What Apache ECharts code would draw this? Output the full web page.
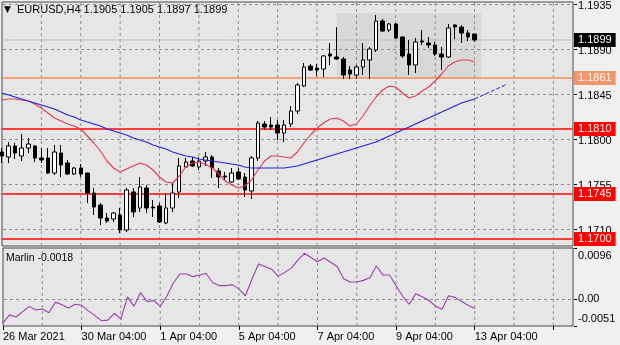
<!DOCTYPE html>
<html><head><meta charset="utf-8">
<script src="https://cdn.jsdelivr.net/npm/echarts@6/dist/echarts.min.js"></script>
<style>html,body{margin:0;padding:0;background:#F0F0F0;}#c{width:620px;height:345px;}</style>
</head><body><div id="c"></div>
<script>
const symbolName = 'EURUSD,H4';
const opens = [1.1787,1.1782,1.1793,1.1783,1.1791,1.1793,1.1781,1.1781,1.1766,1.1786,
1.1776,1.1765,1.1771,1.1766,1.1746,1.1734,1.1721,1.1720,1.1724,1.1709,
1.1747,1.1731,1.1751,1.1732,1.1733,1.1716,1.1731,1.1747,1.1772,1.1778,
1.1772,1.1778,1.1782,1.1768,1.1763,1.1757,1.1767,1.1762,1.1748,1.1781,
1.1815,1.1814,1.1814,1.1806,1.1815,1.1828,1.1853,1.1873,1.1871,1.1870,
1.1885,1.1882,1.1880,1.1869,1.1864,1.1872,1.1879,1.1889,1.1918,1.1909,
1.1915,1.1902,1.1885,1.1874,1.1898,1.1896,1.1894,1.1885,1.1882,1.1914,
1.1912,1.1906,1.1905];
const closes = [1.1783,1.1793,1.1786,1.1791,1.1795,1.1781,1.1779,1.1766,1.1787,1.1774,
1.1765,1.1771,1.1765,1.1746,1.1732,1.1721,1.1718,1.1726,1.1709,1.1749,
1.1727,1.1752,1.1731,1.1731,1.1717,1.1731,1.1746,1.1773,1.1777,1.1773,
1.1778,1.1782,1.1771,1.1762,1.1762,1.1766,1.1760,1.1749,1.1781,1.1816,
1.1812,1.1812,1.1806,1.1814,1.1828,1.1854,1.1872,1.1869,1.1869,1.1883,
1.1883,1.1880,1.1864,1.1865,1.1872,1.1879,1.1890,1.1918,1.1908,1.1915,
1.1901,1.1883,1.1874,1.1897,1.1897,1.1894,1.1885,1.1882,1.1911,1.1912,
1.1906,1.1902,1.1899];
const highs = [1.1791,1.1797,1.1796,1.1805,1.1801,1.1794,1.1791,1.1791,1.1794,1.1794,
1.1779,1.1772,1.1775,1.1766,1.1751,1.1736,1.1726,1.1727,1.1731,1.1751,
1.1751,1.1762,1.1754,1.1739,1.1736,1.1746,1.1756,1.1781,1.1781,1.1782,
1.1782,1.1787,1.1784,1.1771,1.1767,1.1771,1.1771,1.1766,1.1783,1.1818,
1.1818,1.1822,1.1819,1.1819,1.1833,1.1856,1.1876,1.1875,1.1875,1.1884,
1.1896,1.1912,1.1882,1.1873,1.1874,1.1896,1.1892,1.1924,1.1920,1.1916,
1.1916,1.1903,1.1899,1.1901,1.1909,1.1902,1.1897,1.1892,1.1915,1.1915,
1.1914,1.1909,1.1905];
const lows = [1.1776,1.1776,1.1780,1.1778,1.1786,1.1777,1.1776,1.1765,1.1764,1.1762,
1.1764,1.1764,1.1762,1.1736,1.1724,1.1714,1.1716,1.1717,1.1706,1.1707,
1.1722,1.1727,1.1726,1.1722,1.1716,1.1715,1.1727,1.1741,1.1771,1.1772,
1.1769,1.1773,1.1761,1.1751,1.1759,1.1756,1.1759,1.1742,1.1740,1.1778,
1.1809,1.1809,1.1799,1.1797,1.1812,1.1825,1.1852,1.1868,1.1863,1.1862,
1.1874,1.1879,1.1860,1.1860,1.1860,1.1864,1.1860,1.1887,1.1907,1.1907,
1.1900,1.1881,1.1864,1.1866,1.1894,1.1891,1.1883,1.1869,1.1881,1.1900,
1.1896,1.1898,1.1897];
const redMA = [1.1839,1.1840,1.1840,1.1839,1.1838,1.1835,1.1831,1.1826,1.1821,1.1818,
1.1815,1.1813,1.1810,1.1803,1.1796,1.1788,1.1778,1.1771,1.1767,1.1770,
1.1773,1.1776,1.1774,1.1769,1.1762,1.1757,1.1756,1.1763,1.1772,1.1776,
1.1777,1.1775,1.1771,1.1765,1.1758,1.1754,1.1751,1.1753,1.1759,1.1769,
1.1778,1.1783,1.1783,1.1782,1.1781,1.1787,1.1796,1.1804,1.1811,1.1816,
1.1820,1.1821,1.1818,1.1813,1.1815,1.1823,1.1833,1.1842,1.1849,1.1853,
1.1852,1.1846,1.1841,1.1843,1.1848,1.1852,1.1858,1.1865,1.1873,1.1877,
1.1879,1.1879,1.1877];
const blueMA = [1.1846,1.1844,1.1842,1.1840,1.1838,1.1836,1.1834,1.1832,1.1830,1.1827,
1.1824,1.1822,1.1819,1.1817,1.1815,1.1813,1.1810,1.1808,1.1806,1.1804,
1.1801,1.1799,1.1797,1.1794,1.1792,1.1790,1.1787,1.1785,1.1783,1.1782,
1.1780,1.1779,1.1778,1.1777,1.1776,1.1775,1.1774,1.1772,1.1771,1.1771,
1.1771,1.1771,1.1771,1.1771,1.1772,1.1773,1.1775,1.1777,1.1779,1.1781,
1.1783,1.1785,1.1787,1.1789,1.1791,1.1793,1.1795,1.1797,1.1800,1.1803,
1.1806,1.1809,1.1812,1.1815,1.1818,1.1821,1.1824,1.1827,1.1830,1.1833,
1.1836,1.1838,1.1840];
const blueForecastBars = [72, 77];
const blueForecastValues = [1.1840, 1.1855];
const marlin = [-0.0045,-0.0030,-0.0034,-0.0024,-0.0014,-0.0021,-0.0019,-0.0026,-0.0006,-0.0011,
-0.0017,-0.0010,-0.0012,-0.0022,-0.0031,-0.0041,-0.0040,-0.0027,-0.0038,0.0004,
-0.0014,0.0012,-0.0005,-0.0003,-0.0014,0.0005,0.0030,0.0047,0.0047,0.0042,
0.0045,0.0048,0.0031,0.0025,0.0025,0.0027,0.0019,0.0006,0.0037,0.0066,
0.0061,0.0056,0.0043,0.0050,0.0058,0.0073,0.0086,0.0078,0.0070,0.0077,
0.0069,0.0061,0.0038,0.0032,0.0032,0.0035,0.0040,0.0062,0.0045,0.0045,
0.0025,0.0005,-0.0010,0.0010,0.0004,-0.0003,-0.0013,-0.0020,0.0006,0.0003,
-0.0005,-0.0012,-0.0018];
const priceTicks = [1.1935, 1.1890, 1.1845, 1.1800, 1.1755, 1.1710];
const marlinTicks = [0.0096, 0.00, -0.0051];
const orangeLevel = 1.1861;
const redLevels = [1.1810, 1.1745, 1.1700];
const bidPrice = 1.1899;
const rangeBox = {fromBar: 51, toBar: 73, top: 1.1926, bottom: 1.1860};
const timeLabels = ['26 Mar 2021','30 Mar 04:00','1 Apr 04:00','5 Apr 04:00','7 Apr 04:00','9 Apr 04:00','13 Apr 04:00'];
const labelEvery = 12;
const gridEvery = 6;
const totalSlots = 88;

const FF = '"Liberation Sans", Arial, "DejaVu Sans", sans-serif';
const cats = Array.from({length: totalSlots}, (_, i) => 'b' + i);
const n = opens.length;
const candleData = opens.map((o, i) => [o, closes[i], lows[i], highs[i]]);
const forecast = cats.map((_, i) => { const k = blueForecastBars.indexOf(i); return k >= 0 ? blueForecastValues[k] : null; });
const fmt4 = v => v.toFixed(4);
const last = n - 1;
const vGridBars = cats.map((_, i) => i).filter(i => i % gridEvery === 0 && i > 0);
const GRID_COLOR = '#8E8E8E';
const GRID_DASH = [3, 3];

const chart = echarts.init(document.getElementById('c'), null, {renderer: 'canvas'});
const xBase = (gi, showLabels) => ({
  type: 'category', gridIndex: gi, data: cats, boundaryGap: false, position: 'bottom',
  axisLine: {show: false, onZero: false},
  axisTick: {show: showLabels, interval: labelEvery - 1, length: 4, lineStyle: {color: '#000'}},
  axisLabel: {show: showLabels, interval: labelEvery - 1, align: 'left', margin: 5, color: '#000', fontSize: 11, fontFamily: FF,
    formatter: (v, i) => timeLabels[Math.round(i / labelEvery)] || ''},
  splitLine: {show: false}
});

// vertical dotted grid lines: a two-point line series per grid position
function vGridLines(gi, yTop, yBottom) {
  return vGridBars.map(b => ({
    type: 'line', xAxisIndex: gi, yAxisIndex: gi, silent: true, z: 2, symbol: 'none',
    data: [[cats[b], yBottom], [cats[b], yTop]],
    lineStyle: {color: GRID_COLOR, width: 1, type: GRID_DASH}
  }));
}
// horizontal dotted grid lines + small axis tick marks on the right
function hGridSeries(gi, values, drawLine) {
  return {
    type: 'custom', xAxisIndex: gi, yAxisIndex: gi, silent: true, z: 2, clip: false,
    data: values.map(v => [cats[0], v]),
    renderItem: (params, api) => {
      const cs = params.coordSys;
      const y = Math.round(api.coord([api.value(0), api.value(1)])[1]) + 0.5;
      const children = [{type: 'line', shape: {x1: cs.x + cs.width + 1, y1: y, x2: cs.x + cs.width + 4, y2: y},
        style: {stroke: '#000', lineWidth: 1}}];
      if (drawLine(api.value(1))) {
        children.push({type: 'line', shape: {x1: cs.x + 1, y1: y, x2: cs.x + cs.width - 1, y2: y},
          style: {stroke: GRID_COLOR, lineWidth: 1, lineDash: GRID_DASH, fill: null}});
      }
      return {type: 'group', children: children};
    }
  };
}
// end-of-line value label for a horizontal level
function levelSeries(value, gi, lineStyle, label, z) {
  return {
    type: 'line', xAxisIndex: gi, yAxisIndex: gi, data: cats.map(() => value), symbol: 'none', silent: true,
    z: z, lineStyle: lineStyle,
    endLabel: Object.assign({show: true, distance: 5, color: '#000', fontSize: 11, fontFamily: FF,
      formatter: () => (value === 0 ? '0.00' : fmt4(value))}, label)
  };
}
const noLine = {color: 'rgba(0,0,0,0)', width: 0};
const boxLabel = bg => ({backgroundColor: bg, color: '#fff', padding: [2, 4, 1, 4], distance: 1});

const series = [
  {
    type: 'line', xAxisIndex: 0, yAxisIndex: 0, data: cats.map(() => null), z: 1, silent: true, symbol: 'none',
    markArea: {silent: true, itemStyle: {color: '#D8D8D8'},
      data: [[{coord: [cats[rangeBox.fromBar], rangeBox.top]}, {coord: [cats[rangeBox.toBar], rangeBox.bottom]}]]}
  },
  ...vGridLines(0, 1.1937, 1.1693),
  ...vGridLines(1, 0.0096, -0.0051),
  hGridSeries(0, priceTicks, () => true),
  hGridSeries(1, marlinTicks, v => v === 0),
  ...priceTicks.map(v => levelSeries(v, 0, noLine, {offset: [0, 2]}, 2)),
  levelSeries(bidPrice, 0, {color: '#BDBDBD', width: 1}, boxLabel('#000000'), 2),
  levelSeries(orangeLevel, 0, {color: '#FF8A55', width: 1.3}, boxLabel('#F4956A'), 2),
  ...redLevels.map(v => levelSeries(v, 0, {color: '#FF3B3B', width: 1.8}, boxLabel('#FF0000'), 2)),
  {
    type: 'candlestick', xAxisIndex: 0, yAxisIndex: 0, data: candleData, barWidth: 4, z: 3,
    itemStyle: {color: '#FFFFFF', color0: '#000000', borderColor: '#000000', borderColor0: '#000000', borderWidth: 1}
  },
  {type: 'line', xAxisIndex: 0, yAxisIndex: 0, data: redMA, symbol: 'none', z: 4, lineStyle: {color: '#E8384F', width: 1.1}},
  {type: 'line', xAxisIndex: 0, yAxisIndex: 0, data: blueMA, symbol: 'none', z: 4, lineStyle: {color: '#2323E6', width: 1.2}},
  {type: 'line', xAxisIndex: 0, yAxisIndex: 0, data: forecast, connectNulls: true, symbol: 'none', z: 4, lineStyle: {color: '#2323E6', width: 1, type: 'dashed'}},
  ...marlinTicks.map((v, k) => levelSeries(v, 1, noLine,
      {offset: [0, k === 0 ? 8 : (k === 2 ? -7 : 0)]}, 2)),
  {type: 'line', xAxisIndex: 1, yAxisIndex: 1, data: marlin, symbol: 'none', z: 4, lineStyle: {color: '#A03CB4', width: 1.1}}
];

const option = {
  animation: false,
  backgroundColor: '#F0F0F0',
  grid: [
    {left: 2, top: 2, width: 571, height: 244, show: true, backgroundColor: '#E6E6E6', borderColor: '#4A4A4A', borderWidth: 1},
    {left: 2, top: 248, width: 571, height: 78, show: true, backgroundColor: '#E6E6E6', borderColor: '#4A4A4A', borderWidth: 1}
  ],
  xAxis: [xBase(0, false), xBase(1, true)],
  yAxis: [
    {type: 'value', gridIndex: 0, min: 1.1693, max: 1.1937, show: false, splitLine: {show: false}},
    {type: 'value', gridIndex: 1, min: -0.0051, max: 0.0096, show: false, splitLine: {show: false}}
  ],
  graphic: [
    {type: 'text', left: 4, top: 5, style: {text: '\u25BC', font: '9px "DejaVu Sans"', fill: '#000'}},
    {type: 'text', left: 17, top: 4, style: {text: symbolName + ' ' + [opens[last], highs[last], lows[last], closes[last]].map(fmt4).join(' '), font: '11px ' + FF, fill: '#000'}},
    {type: 'text', left: 6, top: 253, style: {text: 'Marlin ' + fmt4(marlin[last]), font: '10.5px ' + FF, fill: '#000'}}
  ],
  series: series
};
chart.setOption(option);
</script></body></html>
